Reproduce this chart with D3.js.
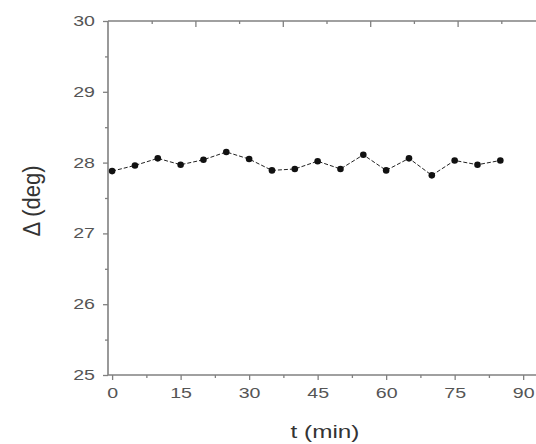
<!DOCTYPE html>
<html><head><meta charset="utf-8">
<script src="https://cdn.jsdelivr.net/npm/d3@7"></script>
<style>html,body{margin:0;padding:0;background:#fff;}svg{display:block;}</style>
</head><body>
<svg id="c" width="536" height="444"></svg>
<script>
const times = [0,5,10,15,20,25,30,35,40,45,50,55,60,65,70,75,80,85];
const delta = [27.88,27.96,28.06,27.97,28.04,28.15,28.05,27.89,27.91,28.02,27.91,28.11,27.89,28.06,27.82,28.03,27.97,28.03];
const xTicks = [0,15,30,45,60,75,90];
const xMinor = [7.5,22.5,37.5,52.5,67.5,82.5];
const yTicks = [25,26,27,28,29,30];
const yMinor = [25.5,26.5,27.5,28.5,29.5];
const topTicks = [0,1,2,3,4,5,6,7,8,9,10];

const svg = d3.select("#c");
const L = 108, T = 21, B = 375;
const x = d3.scaleLinear().domain([-0.9, 95]).range([L, 546]);
const y = d3.scaleLinear().domain([25, 30]).range([B, T]);
const xt = d3.scaleLinear().domain([0, 10]).range([L, 545]);
const axisCol = "#808080", labCol = "#555", font = "Liberation Sans, Arial, sans-serif";
const SX = 1.4;

function style(g){
  g.select(".domain").remove();
  g.selectAll("line").attr("stroke", axisCol).attr("stroke-width", 1.3);
  g.selectAll("text").attr("fill", labCol).style("font-family", font).style("font-size","14px")
    .each(function(){
      const t = d3.select(this);
      const tx = +t.attr("x") || 0;
      t.attr("transform", `translate(${tx},0) scale(${SX},1)`).attr("x", 0);
    });
}

// bottom axis
svg.append("g").attr("transform",`translate(0,${B})`).call(d3.axisBottom(x).tickValues(xTicks).tickSize(5).tickPadding(8)).call(style);
svg.append("g").attr("transform",`translate(0,${B})`).call(d3.axisBottom(x).tickValues(xMinor).tickSize(3).tickFormat("")).call(style);
// left axis
svg.append("g").attr("transform",`translate(${L},0)`).call(d3.axisLeft(y).tickValues(yTicks).tickSize(5).tickPadding(8).tickFormat(d3.format("d"))).call(style);
svg.append("g").attr("transform",`translate(${L},0)`).call(d3.axisLeft(y).tickValues(yMinor).tickSize(3).tickFormat("")).call(style);
// top axis (inward ticks)
svg.append("g").attr("transform",`translate(0,${T})`).call(d3.axisBottom(xt).tickValues(topTicks.filter(d=>d%2===0 && d>0)).tickSize(6).tickFormat("")).call(style);
svg.append("g").attr("transform",`translate(0,${T})`).call(d3.axisBottom(xt).tickValues(topTicks.filter(d=>d%2===1)).tickSize(3).tickFormat("")).call(style);

// frame lines
svg.append("line").attr("x1",L).attr("x2",536).attr("y1",B).attr("y2",B).attr("stroke",axisCol).attr("stroke-width",1.6);
svg.append("line").attr("x1",L).attr("x2",536).attr("y1",T).attr("y2",T).attr("stroke",axisCol).attr("stroke-width",1.6);
svg.append("line").attr("x1",L).attr("x2",L).attr("y1",T).attr("y2",B).attr("stroke",axisCol).attr("stroke-width",1.6);

// data
const pts = times.map((t,i)=>[t,delta[i]]);
svg.append("path").datum(pts).attr("fill","none").attr("stroke","#222").attr("stroke-width",1)
  .attr("stroke-dasharray","4,2")
  .attr("d", d3.line().x(d=>x(d[0])).y(d=>y(d[1])));
svg.append("g").selectAll("circle").data(pts).join("circle")
  .attr("cx",d=>x(d[0])).attr("cy",d=>y(d[1])).attr("r",3.3).attr("fill","#111");

// axis titles
svg.append("text").attr("transform","translate(325,438) scale(1.35,1)").attr("text-anchor","middle").attr("fill","#333")
  .style("font-family",font).style("font-size","18px").text("t (min)");
svg.append("text").attr("transform","translate(40,201) rotate(-90) scale(1,1.1)").attr("text-anchor","middle").attr("fill","#333")
  .style("font-family",font).style("font-size","22px").text("Δ (deg)");
</script>
</body></html>
